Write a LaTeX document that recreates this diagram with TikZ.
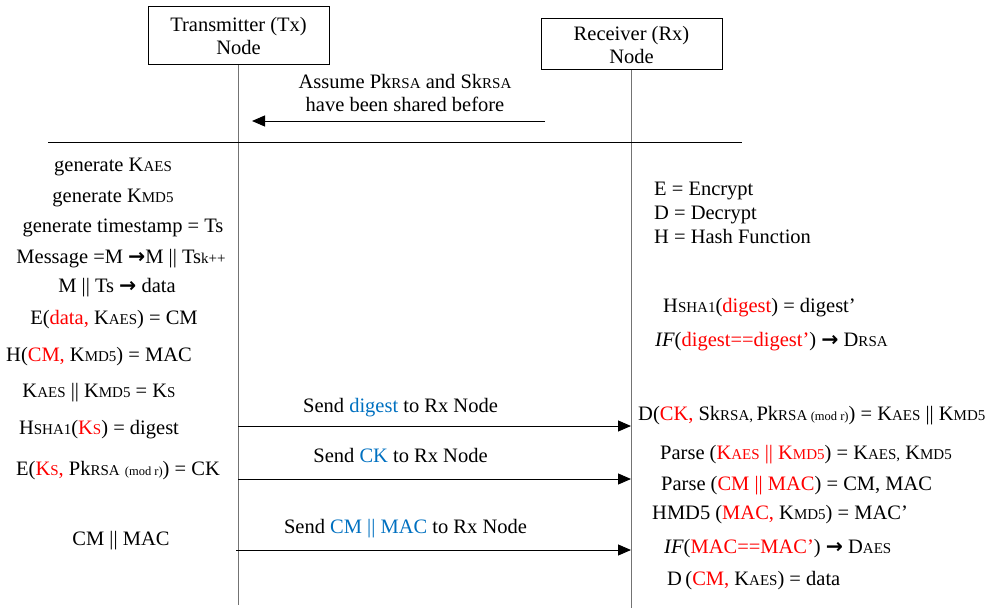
\documentclass[tikz,border=0pt]{standalone}
\usepackage{fontspec}
\setmainfont{Liberation Serif}
\newfontfamily\arrfont{DejaVu Sans}
\usetikzlibrary{arrows.meta}
\definecolor{keyred}{RGB}{255,0,0}
\definecolor{sendblue}{RGB}{0,112,192}
\newcommand{\sm}[1]{{\fontsize{15}{15}\selectfont #1}}
\newcommand{\smr}[1]{{\fontsize{12.5}{12.5}\selectfont #1}}
\newcommand{\rd}[1]{\textcolor{keyred}{#1}}
\newcommand{\bl}[1]{\textcolor{sendblue}{#1}}
\newcommand{\arr}{{\arrfont\bfseries →}}
\begin{document}
\begin{tikzpicture}[x=1pt,y=-1pt,
  every node/.style={font=\fontsize{20.5}{23}\selectfont, inner sep=0pt},
  nodebox/.style={draw, line width=1pt, minimum width=181pt, minimum height=58pt, align=center},
  life/.style={draw=black!55, line width=1pt},
  msg/.style={-{Triangle[length=13pt,width=11pt]}, line width=1pt},
  txstep/.style={anchor=base},
  rxstep/.style={anchor=base west},
  sendlbl/.style={midway, anchor=base, yshift=#1}]
\useasboundingbox (0,0) rectangle (993,610);
\node[nodebox] (tx) at (238.5,36) {Transmitter (Tx)\\Node};
\node[nodebox, minimum height=51pt] (rx) at (631.5,44.5) {Receiver (Rx)\\Node};
\coordinate (txend) at (238,605);
\coordinate (rxend) at (631,608);
\draw[life] (tx.south -| txend) -- (txend);
\draw[life] (rx.south -| rxend) -- (rxend);
\node[align=center, anchor=base] (shared) at (405,111) {Assume Pk\sm{RSA} and Sk\sm{RSA}\\have been shared before};
\coordinate (sh1) at (545,121);
\coordinate (sh2) at (252,121);
\draw[msg] (sh1) -- (sh2);
\coordinate (sepL) at (48,142);
\coordinate (sepR) at (742,142);
\draw[line width=1pt] (sepL) -- (sepR);
% transmitter side
\node[txstep] (l1) at (113,171) {generate K\sm{AES}};
\node[txstep] (l2) at (113,202) {generate K\sm{MD5}};
\node[txstep] (l3) at (123,232) {generate timestamp = Ts};
\node[txstep] (l4) at (121,263) {Message =M \arr M || Ts\sm{k++}};
\node[txstep] (l5) at (117,292) {M || Ts \arr{} data};
\node[txstep] (l6) at (114,324) {E(\rd{data,} K\sm{AES}) = CM};
\node[txstep] (l7) at (99,361) {H(\rd{CM,} K\sm{MD5}) = MAC};
\node[txstep] (l8) at (99,397) {K\sm{AES} || K\sm{MD5} = K\sm{S}};
\node[txstep] (l9) at (99,434) {H\sm{SHA1}(\rd{K\sm{S}}) = digest};
\node[txstep] (l10) at (118,475) {E(\rd{K\sm{S},} Pk\sm{RSA} \smr{(mod r)}) = CK};
\node[txstep] (l11) at (121,545) {CM || MAC};
% receiver side
\node[rxstep] (r1) at (654,195) {E = Encrypt};
\node[rxstep] (r2) at (654,219) {D = Decrypt};
\node[rxstep] (r3) at (654,243) {H = Hash Function};
\node[rxstep] (r4) at (663,312) {H\sm{SHA1}(\rd{digest}) = digest’};
\node[rxstep] (r5) at (655,346) {\textit{IF}(\rd{digest==digest’}) \arr{} D\sm{RSA}};
\node[rxstep] (r6) at (638,420) {D(\rd{CK,} Sk\sm{RSA,}\,Pk\sm{RSA}\,\smr{(mod r)}) = K\sm{AES} || K\sm{MD5}};
\node[rxstep] (r7) at (660,459) {Parse (\rd{K\sm{AES} || K\sm{MD5}}) = K\sm{AES,} K\sm{MD5}};
\node[rxstep] (r8) at (661,490) {Parse (\rd{CM || MAC}) = CM, MAC};
\node[rxstep] (r9) at (652,519) {HMD5 (\rd{MAC,} K\sm{MD5}) = MAC’};
\node[rxstep] (r10) at (664,553) {\textit{IF}(\rd{MAC==MAC’}) \arr{} D\sm{AES}};
\node[rxstep] (r11) at (667,585) {D\,(\rd{CM,} K\sm{AES}) = data};
% messages
\coordinate (txd) at (238,426);
\coordinate (rxd) at (631,426);
\draw[msg] (txd) -- node[sendlbl=14pt, xshift=-34pt] (sd) {Send \bl{digest} to Rx Node} (rxd);
\coordinate (txk) at (238,479);
\coordinate (rxk) at (631,479);
\draw[msg] (txk) -- node[sendlbl=17pt, xshift=-34pt] (sk) {Send \bl{CK} to Rx Node} (rxk);
\coordinate (txm) at (236,550);
\coordinate (rxm) at (631,550);
\draw[msg] (txm) -- node[sendlbl=17pt, xshift=-28pt] (sm) {Send \bl{CM || MAC} to Rx Node} (rxm);
\end{tikzpicture}
\end{document}
